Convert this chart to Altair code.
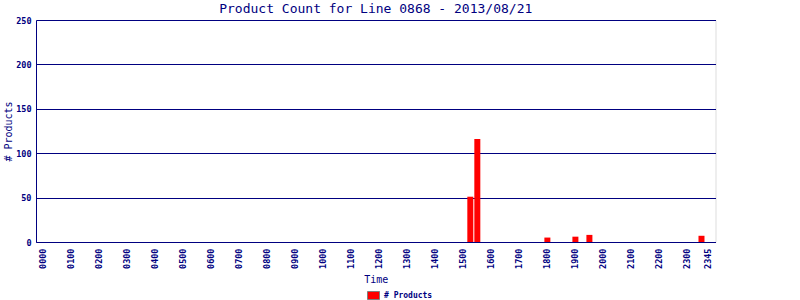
import altair as alt
import pandas as pd

# 15-minute time slots of the day (categories)
slots = [f"{h:02d}{m:02d}" for h in range(24) for m in (0, 15, 30, 45)]
# non-zero product counts
times = ["1515", "1530", "1800", "1900", "1930", "2330"]
counts = [51, 116, 5, 6, 8, 7]
tick_labels = [f"{h:02d}00" for h in range(24)] + ["2345"]
y_ticks = [0, 50, 100, 150, 200, 250]

NAVY = "#000080"
FONT = "DejaVu Sans Mono"

df = pd.DataFrame({"Time": times, "Products": counts, "series": ["# Products"] * len(times)})

rect_path = "M-1,-0.667L1,-0.667L1,0.667L-1,0.667Z"

chart = alt.Chart(df).mark_bar(size=6).encode(
    x=alt.X("Time:O",
            scale=alt.Scale(domain=slots, paddingInner=0, paddingOuter=0.5),
            axis=alt.Axis(values=tick_labels, labelAngle=-90, labelAlign="right",
                          labelBaseline="middle", labelPadding=6, ticks=False,
                          grid=False, domainColor=NAVY, labelColor=NAVY,
                          labelFont=FONT, labelFontSize=8.5, labelFontWeight="bold",
                          title="Time", titleFont=FONT, titleFontSize=10,
                          titleFontWeight="normal", titleColor=NAVY,
                          titleBaseline="alphabetic", titleY=40)),
    y=alt.Y("Products:Q",
            scale=alt.Scale(domain=[0, 250], nice=False),
            axis=alt.Axis(values=y_ticks, grid=True, gridColor=NAVY, gridOpacity=1,
                          ticks=False, labelPadding=5, domainColor=NAVY,
                          labelColor=NAVY, labelFont=FONT, labelFontSize=8.5,
                          labelFontWeight="bold",
                          title="# Products", titleFont=FONT, titleFontSize=10,
                          titleFontWeight="normal", titleColor=NAVY,
                          titleAngle=-90, titleBaseline="middle", titleAlign="center",
                          titleX=-28, titleY=111)),
    color=alt.Color("series:N",
                    scale=alt.Scale(domain=["# Products"], range=["#FF0000"]),
                    legend=alt.Legend(orient="none", legendX=331, legendY=269,
                                      title=None, padding=0,
                                      symbolType=rect_path, symbolSize=144,
                                      symbolStrokeColor="#808080", symbolStrokeWidth=1,
                                      symbolOpacity=1,
                                      labelFont=FONT, labelFontSize=8,
                                      labelFontWeight="bold", labelColor=NAVY,
                                      labelOffset=4)),
).properties(
    width=679.5,
    height=222,
    autosize=alt.AutoSizeParams(type="none"),
    padding={"left": 36, "top": 20, "right": 84, "bottom": 58},
    title=alt.TitleParams("Product Count for Line 0868 - 2013/08/21",
                          font=FONT, fontSize=13, fontWeight="normal",
                          color=NAVY, anchor="middle", baseline="alphabetic",
                          frame="group", offset=0, dy=10),
).configure_view(
    stroke=NAVY, strokeWidth=1
).configure(background="white")

chart.save("out.html", embed_options={"renderer": "svg", "actions": False})
